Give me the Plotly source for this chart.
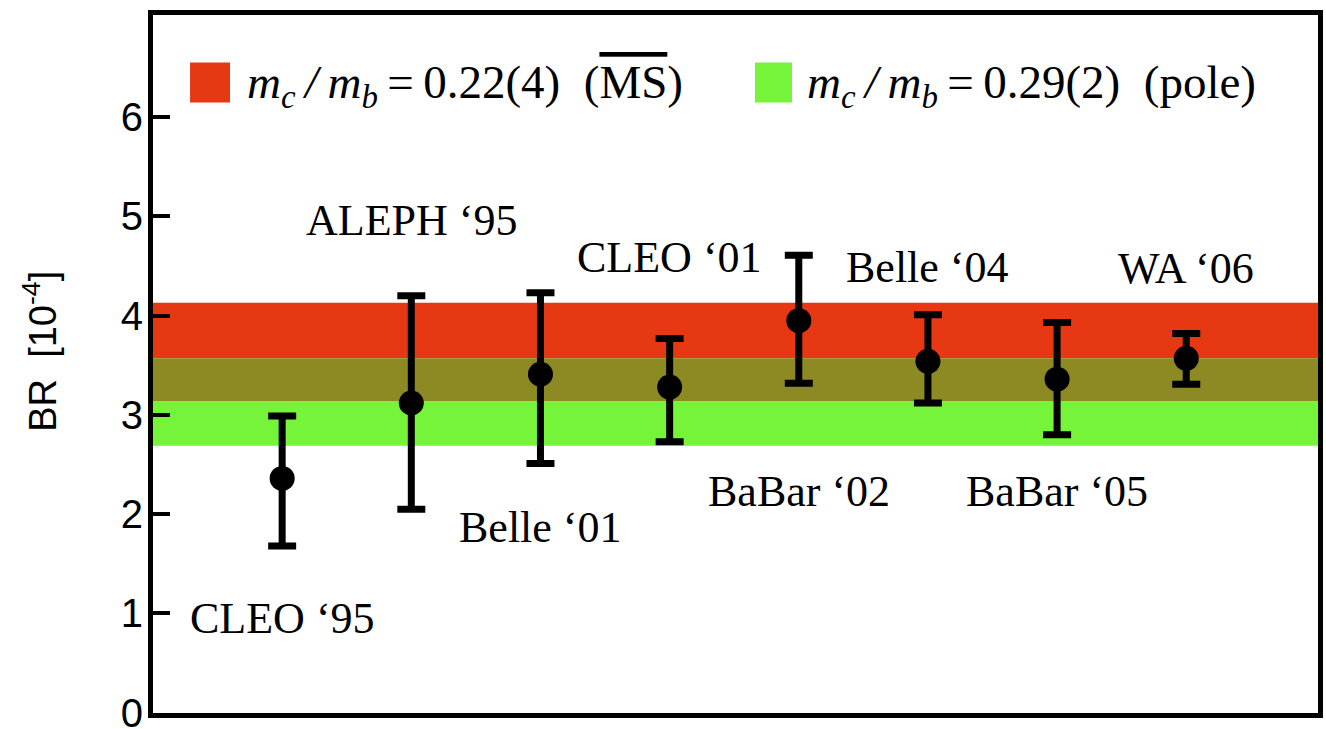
import plotly.graph_objects as go

# ---- data ----
experiments = ["CLEO ‘95", "ALEPH ‘95", "Belle ‘01", "CLEO ‘01",
               "BaBar ‘02", "Belle ‘04", "BaBar ‘05", "WA ‘06"]
positions = [1, 2, 3, 4, 5, 6, 7, 8]
br_central = [2.36, 3.12, 3.41, 3.28, 3.95, 3.54, 3.36, 3.57]
br_err_up = [0.63, 1.08, 0.82, 0.49, 0.66, 0.47, 0.57, 0.25]
br_err_down = [0.68, 1.07, 0.90, 0.55, 0.63, 0.42, 0.56, 0.26]

ms_band = [3.14, 4.13]     # m_c/m_b = 0.22(4) (MSbar)  -> red
pole_band = [2.69, 3.57]   # m_c/m_b = 0.29(2) (pole)   -> green

y_ticks = [0, 1, 2, 3, 4, 5, 6]

# ---- layout-only settings ----
label_y = [0.95, 4.96, 1.87, 4.59, 2.23, 4.49, 2.23, 4.48]
RED = "#E63812"
GREEN = "#75F43A"
OLIVE = "#8E8A23"
SERIF = "Liberation Serif, Times New Roman, serif"
SANS = "Liberation Sans, Arial, Helvetica, sans-serif"

fig = go.Figure()

fig.add_trace(go.Scatter(
    x=positions, y=br_central, mode="markers",
    marker=dict(color="black", size=25, symbol="circle"),
    error_y=dict(type="data", symmetric=False, array=br_err_up,
                 arrayminus=br_err_down, color="black", thickness=7, width=14),
    showlegend=False, hoverinfo="skip",
))
# invisible companion trace so the label-only axis is drawn
fig.add_trace(go.Scatter(
    x=positions, y=br_central, mode="markers", yaxis="y2",
    marker=dict(opacity=0), showlegend=False, hoverinfo="skip",
))

shapes = []
ov_lo = max(ms_band[0], pole_band[0])
ov_hi = min(ms_band[1], pole_band[1])
shapes.append(dict(type="rect", xref="paper", yref="y", x0=0, x1=1,
                   y0=ov_hi, y1=ms_band[1], fillcolor=RED, line_width=0, layer="below"))
shapes.append(dict(type="rect", xref="paper", yref="y", x0=0, x1=1,
                   y0=ov_lo, y1=ov_hi, fillcolor=OLIVE, line_width=0, layer="below"))
shapes.append(dict(type="rect", xref="paper", yref="y", x0=0, x1=1,
                   y0=pole_band[0], y1=ov_lo, fillcolor=GREEN, line_width=0, layer="below"))

# legend squares
shapes.append(dict(type="rect", xref="paper", yref="paper", x0=0.0318, x1=0.0661,
                   y0=0.8746, y1=0.932, fillcolor=RED, line_width=0))
shapes.append(dict(type="rect", xref="paper", yref="paper", x0=0.5167, x1=0.5485,
                   y0=0.8746, y1=0.932, fillcolor=GREEN, line_width=0))

annotations = []
for px, name, ly in zip(positions, experiments, label_y):
    annotations.append(dict(x=px, y=ly, xref="x", yref="y", text=name,
                            showarrow=False, xanchor="center", yanchor="middle",
                            font=dict(family=SERIF, size=44, color="black")))

mratio = "<i>m</i><sub><i>c</i></sub>\u2009<i>/</i>\u2009<i>m</i><sub><i>b</i></sub>"
leg1 = (mratio + "\u2009=\u20090.22(4)\u00a0\u00a0"
        "(<span style='text-decoration:overline'>MS</span>)")
leg2 = (mratio + "\u2009=\u20090.29(2)\u00a0\u00a0(pole)")
annotations.append(dict(x=0.079, y=0.899, xref="paper", yref="paper", text=leg1,
                        showarrow=False, xanchor="left", yanchor="middle",
                        font=dict(family=SERIF, size=47, color="black")))
annotations.append(dict(x=0.5597, y=0.899, xref="paper", yref="paper", text=leg2,
                        showarrow=False, xanchor="left", yanchor="middle",
                        font=dict(family=SERIF, size=47, color="black")))
# y axis title
annotations.append(dict(x=-0.097, y=0.519, xref="paper", yref="paper",
                        text="BR\u00a0\u00a0[10<sup>-4</sup>]", textangle=-90,
                        showarrow=False, xanchor="center", yanchor="middle",
                        font=dict(family=SANS, size=38, color="black")))

YRANGE = [-0.004, 7.03]

fig.update_layout(
    width=1326, height=729,
    margin=dict(l=153, r=8, t=15, b=16, autoexpand=False),
    paper_bgcolor="white", plot_bgcolor="white",
    shapes=shapes, annotations=annotations,
    showlegend=False,
    xaxis=dict(range=[0, 9.02], showgrid=False, zeroline=False,
               showticklabels=False, ticks="", automargin=False,
               showline=True, mirror=True, linecolor="black", linewidth=5),
    yaxis=dict(range=YRANGE, showgrid=False, zeroline=False,
               tickvals=y_ticks, showticklabels=False,
               ticks="inside", ticklen=17, tickwidth=4, tickcolor="black",
               automargin=False,
               showline=True, mirror=True, linecolor="black", linewidth=5),
    yaxis2=dict(range=YRANGE, overlaying="y", anchor="free", position=0,
                side="left", showgrid=False, zeroline=False, showline=False,
                tickvals=y_ticks, ticktext=[str(t) for t in y_ticks], ticks="",
                tickfont=dict(family=SANS, size=40, color="black"),
                ticklabelstandoff=10, ticklabeloverflow="allow", automargin=False),
)

fig.write_html("out.html")
